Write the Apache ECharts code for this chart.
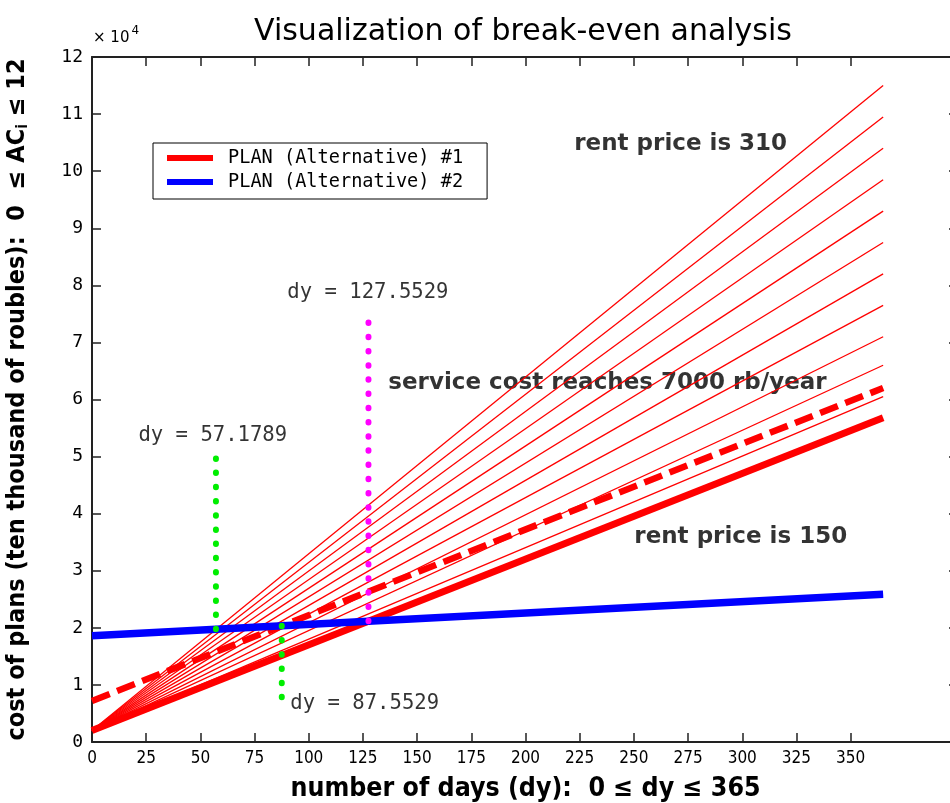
<!DOCTYPE html>
<html>
<head>
<meta charset="utf-8">
<script src="https://cdn.jsdelivr.net/npm/echarts@6/dist/echarts.min.js"></script>
<style>html,body{margin:0;padding:0;background:#fff;}#chart{width:950px;height:803px;}</style>
</head>
<body>
<div id="chart"></div>
<script>
// ---- data (cost values in units of 10^4 roubles) ----
const dayRange = [0, 365];
const xTicks = [0, 25, 50, 75, 100, 125, 150, 175, 200, 225, 250, 275, 300, 325, 350];
const yTicks = [0, 1, 2, 3, 4, 5, 6, 7, 8, 9, 10, 11, 12];
const rentPrices = [310, 295, 280, 265, 250, 235, 220, 205, 190, 175, 160];
const rentLineStart = 0.2;
const rentLineEnds = [11.5, 10.95, 10.4, 9.85, 9.3, 8.75, 8.2, 7.65, 7.1, 6.6, 6.05];
const plan1 = [0.2, 5.68];          // rent price 150
const plan1Service = [0.72, 6.2];   // service cost reaches 7000 rb/year
const plan2 = [1.86, 2.59];
const breakEvenDays = [57.1789, 87.5529, 127.5529];
const breakEvenFrom = [1.974, 2.035, 2.115];
const breakEvenTo = [5.02, 0.64, 7.4];
const breakEvenColors = ['#00ee00', '#00ee00', '#ff00ff'];
const boldNotes = [
  [222.5, 10.48, 'rent price is 310'],
  [136.7, 6.28, 'service cost reaches 7000 rb/year'],
  [250.2, 3.59, 'rent price is 150']
];
const dyNotes = [
  [21.4, 5.36, 'dy = 57.1789'],
  [91.5, 0.68, 'dy = 87.5529'],
  [90.1, 7.88, 'dy = 127.5529']
];

const chart = echarts.init(document.getElementById('chart'), null, {renderer: 'canvas'});

const series = [];
rentPrices.forEach((p, i) => {
  series.push({
    name: 'rent ' + p, type: 'line', symbol: 'none', silent: true,
    data: [[dayRange[0], rentLineStart], [dayRange[1], rentLineEnds[i]]],
    lineStyle: {color: '#ff0000', width: 1.3}
  });
});
series.push({
  name: 'PLAN (Alternative) #1', type: 'line', symbol: 'none',
  data: [[dayRange[0], plan1[0]], [dayRange[1], plan1[1]]],
  itemStyle: {color: '#ff0000'},
  lineStyle: {color: '#ff0000', width: 7}
});
series.push({
  name: 'service', type: 'line', symbol: 'none',
  data: [[dayRange[0], plan1Service[0]], [dayRange[1], plan1Service[1]]],
  lineStyle: {color: '#ff0000', width: 6.5, type: [19, 8]}
});
series.push({
  name: 'PLAN (Alternative) #2', type: 'line', symbol: 'none',
  data: [[dayRange[0], plan2[0]], [dayRange[1], plan2[1]]],
  itemStyle: {color: '#0000ff'},
  lineStyle: {color: '#0000ff', width: 7.5}
});
breakEvenDays.forEach((d, i) => {
  series.push({
    name: 'be' + i, type: 'line', symbol: 'none',
    data: [[d, breakEvenFrom[i]], [d, breakEvenTo[i]]],
    lineStyle: {color: breakEvenColors[i], width: 6, type: [0.5, 13.7], cap: 'round'}
  });
});
series.push({
  name: 'boldNotes', type: 'scatter', symbolSize: 0, silent: true,
  data: boldNotes.map(n => ({value: [n[0], n[1]], label: {formatter: n[2]}})),
  label: {show: true, position: 'right', distance: 0, color: '#000',
    fontFamily: 'DejaVu Sans', fontWeight: 'bold', fontSize: 23}
});
series.push({
  name: 'dyNotes', type: 'scatter', symbolSize: 0, silent: true,
  data: dyNotes.map(n => ({value: [n[0], n[1]], label: {formatter: n[2]}})),
  label: {show: true, position: 'right', distance: 0, color: '#000',
    fontFamily: 'DejaVu Sans Mono', fontSize: 20.6}
});

const axisLine = {show: true, onZero: false, lineStyle: {color: '#222', width: 2}};
const tickStyle = {color: '#222', width: 1.5};
const option = {
  animation: false,
  backgroundColor: '#fff',
  title: {
    text: 'Visualization of break-even analysis',
    left: 518, top: 12, textAlign: 'center',
    textStyle: {fontFamily: 'DejaVu Sans', fontWeight: 'normal', fontSize: 30, letterSpacing: 2.2, color: '#000'}
  },
  graphic: [{
    type: 'text', left: 93, top: 25,
    style: {
      text: '{a|× 10}{b|4}',
      rich: {
        a: {fontFamily: 'DejaVu Sans', fontSize: 15, color: '#000', padding: [7, 0, 0, 0]},
        b: {fontFamily: 'DejaVu Sans', fontSize: 12, color: '#000', padding: [0, 0, 7, 2]}
      }
    }
  }],
  legend: {
    data: ['PLAN (Alternative) #1', 'PLAN (Alternative) #2'],
    orient: 'vertical', left: 153, top: 143,
    backgroundColor: '#fff', borderColor: '#000', borderWidth: 1,
    padding: [5, 24, 7, 14], itemGap: 4,
    icon: 'rect', itemWidth: 46, itemHeight: 6,
    selectedMode: false,
    textStyle: {fontFamily: 'DejaVu Sans Mono', fontSize: 18.6, color: '#000', lineHeight: 20, padding: [0, 0, 0, 10]}
  },
  grid: {left: 92, right: -9, top: 57, bottom: 61, containLabel: false, outerBoundsMode: 'none'},
  xAxis: [{
    type: 'value', min: 0, max: 400, interval: 25, position: 'bottom',
    name: 'number of days (dy):  0 ≤ dy ≤ 365', nameLocation: 'middle', nameGap: 34,
    nameTextStyle: {fontFamily: 'DejaVu Sans Condensed', fontWeight: 'bold', fontSize: 26.5, color: '#000'},
    axisLine: axisLine,
    axisTick: {inside: true, length: 9, lineStyle: tickStyle, customValues: xTicks},
    axisLabel: {customValues: xTicks, margin: 8, fontFamily: 'DejaVu Sans Condensed', fontSize: 17, color: '#000'},
    splitLine: {show: false}
  }, {
    type: 'value', min: 0, max: 400, interval: 25, position: 'top',
    axisLine: axisLine,
    axisTick: {inside: true, length: 9, lineStyle: tickStyle, customValues: xTicks},
    axisLabel: {show: false},
    splitLine: {show: false}
  }],
  yAxis: [{
    type: 'value', min: 0, max: 12, interval: 1, position: 'left',
    name: 'cost of plans (ten thousand of roubles):  0  ≤ AC{sub|i} ≤ 12',
    nameLocation: 'middle', nameGap: 61, nameRotate: 90,
    nameTextStyle: {fontFamily: 'DejaVu Sans Condensed', fontWeight: 'bold', fontSize: 25, color: '#000',
      rich: {sub: {fontFamily: 'DejaVu Sans Condensed', fontWeight: 'bold', fontSize: 15, color: '#000', padding: [13, 0, 0, 0]}}},
    axisLine: axisLine,
    axisTick: {inside: true, length: 9, lineStyle: tickStyle, customValues: yTicks},
    axisLabel: {customValues: yTicks, margin: 9, fontFamily: 'DejaVu Sans Mono', fontSize: 18, color: '#000'},
    splitLine: {show: false}
  }, {
    type: 'value', min: 0, max: 12, interval: 1, position: 'right',
    axisLine: axisLine,
    axisTick: {inside: true, length: 10, lineStyle: tickStyle, customValues: yTicks},
    axisLabel: {show: false},
    splitLine: {show: false}
  }],
  series: series
};
chart.setOption(option);
</script>
</body>
</html>
